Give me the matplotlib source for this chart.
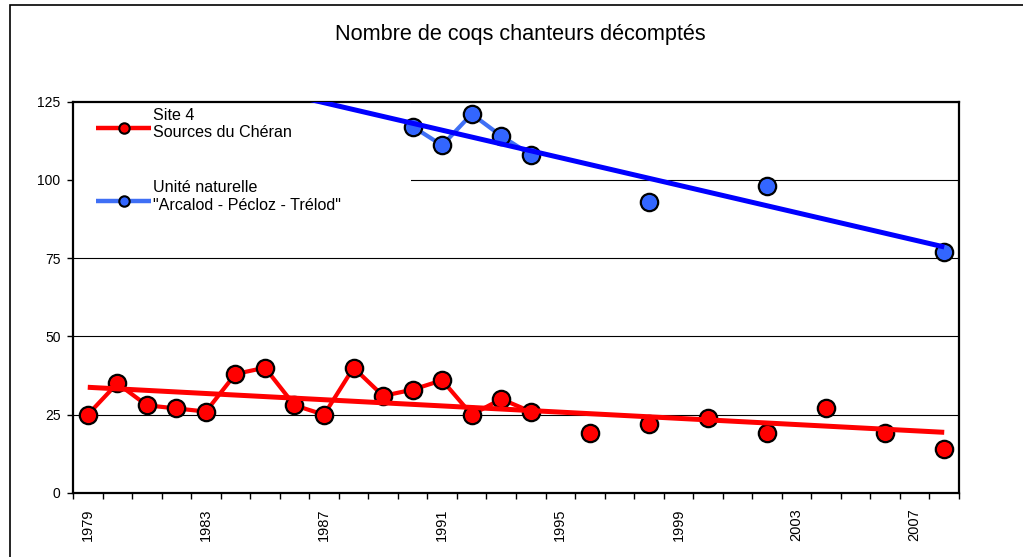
import numpy as np
import matplotlib.pyplot as plt
from matplotlib.lines import Line2D
from matplotlib.patches import Rectangle

plt.rcParams['font.family'] = ['Liberation Sans', 'DejaVu Sans']

nan = np.nan
years = np.arange(1979, 2009)
site4 = [25, 35, 28, 27, 26, 38, 40, 28, 25, 40, 31, 33, 36, 25, 30, 26,
         nan, 19, nan, 22, nan, 24, nan, 19, nan, 27, nan, 19, nan, 14]
unite = [nan] * 11 + [117, 111, 121, 114, 108, nan, nan, nan, 93,
                      nan, nan, nan, 98, nan, nan, nan, nan, nan, 77]
label_years = [1979, 1983, 1987, 1991, 1995, 1999, 2003, 2007]
yticks = [0, 25, 50, 75, 100, 125]
title = "Nombre de coqs chanteurs décomptés"
lab_site = "Site 4\nSources du Chéran"
lab_unite = "Unité naturelle\n\"Arcalod - Pécloz - Trélod\""

red = '#FF0000'
blue_line = '#3F6FF5'
blue_fill = '#3366FF'
blue_trend = '#0000FF'

W, H = 1023, 557
def fx(x):
    return x / W
def fy(y):
    return 1 - y / H

fig = plt.figure(figsize=(W / 100, H / 100), dpi=100)
ax = fig.add_axes([fx(73), fy(493), (959 - 73) / W, (493 - 101.5) / H])

site4 = np.array(site4, dtype=float)
unite = np.array(unite, dtype=float)

# data lines
ax.plot(years, site4, color=red, lw=3, marker='o', ms=12.5, mfc=red,
        mec='black', mew=1.6, zorder=3)
ax.plot(years, unite, color=blue_line, lw=3, marker='o', ms=12.5,
        mfc=blue_fill, mec='black', mew=1.6, zorder=3)

# linear trend lines
for vals, col in [(site4, red), (unite, blue_trend)]:
    ok = ~np.isnan(vals)
    k, b = np.polyfit(years[ok], vals[ok], 1)
    xs = np.array([years[0], years[-1]])
    ax.plot(xs, k * xs + b, color=col, lw=3.6, zorder=4, solid_capstyle='butt')

ax.set_xlim(years[0] - 0.5, years[-1] + 0.5)
ax.set_ylim(0, 125)

ax.set_yticks(yticks)
ax.tick_params(axis='y', direction='out', length=4, width=1, pad=5,
               labelsize=10)
ax.set_xticks(label_years)
ax.set_xticklabels([str(y) for y in label_years], rotation=90)
ax.set_xticks(np.arange(years[0] - 0.5, years[-1] + 1), minor=True)
ax.tick_params(axis='x', which='major', length=0, pad=11, labelsize=10.5)
ax.tick_params(axis='x', which='minor', direction='out', length=4, width=1)

ax.set_axisbelow(True)
ax.yaxis.grid(True, color='black', lw=0.8)
for s in ax.spines.values():
    s.set_linewidth(1.6)
    s.set_color('black')

# white box behind the legend
ax.add_patch(Rectangle((0, 0.626), 0.3815, 0.374, transform=ax.transAxes,
                       facecolor='white', edgecolor='none', zorder=1.2))

# legend drawn by hand
for yl, col, mfc, lab in [(128, red, red, lab_site),
                          (200.5, blue_line, blue_fill, lab_unite)]:
    fig.add_artist(Line2D([fx(96), fx(151)], [fy(yl), fy(yl)], color=col,
                          lw=3.2, solid_capstyle='butt'))
    fig.add_artist(Line2D([fx(123.5)], [fy(yl)], marker='o', ms=7.5,
                          mfc=mfc, mec='black', mew=1.5))
    fig.text(fx(153), fy(yl + 9), lab, fontsize=11.6, va='baseline',
             ha='left', linespacing=1.2)

fig.text(fx(520), fy(40), title, fontsize=15.6, ha='center', va='baseline')

# outer chart border
fig.add_artist(Rectangle((fx(10), -0.2), 1.5, fy(5) + 0.2,
                         transform=fig.transFigure, fill=False,
                         edgecolor='black', lw=1.2))

fig.savefig('out.png', dpi=100)
